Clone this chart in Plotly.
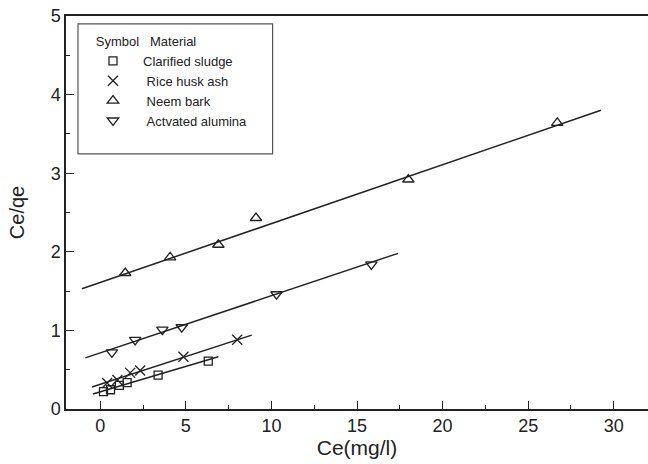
import plotly.graph_objects as go

# ---- data ----
cs_x = [0.19, 0.60, 1.12, 1.57, 3.38, 6.31]
cs_y = [0.22, 0.245, 0.30, 0.335, 0.43, 0.61]
rha_x = [0.40, 1.00, 1.75, 2.33, 4.86, 8.00]
rha_y = [0.33, 0.37, 0.46, 0.49, 0.665, 0.88]
nb_x = [1.46, 4.08, 6.90, 9.10, 18.0, 26.7]
nb_y = [1.73, 1.93, 2.09, 2.43, 2.92, 3.64]
aa_x = [0.68, 2.04, 3.63, 4.76, 10.3, 15.84]
aa_y = [0.72, 0.88, 1.01, 1.04, 1.46, 1.84]

# fitted lines (end points)
cs_fit_x, cs_fit_y = [-0.43, 6.9], [0.19, 0.665]
rha_fit_x, rha_fit_y = [-0.48, 8.85], [0.28, 0.94]
nb_fit_x, nb_fit_y = [-1.07, 29.25], [1.53, 3.80]
aa_fit_x, aa_fit_y = [-0.87, 17.4], [0.65, 1.98]

names = ["Clarified sludge", "Rice husk ash", "Neem bark", "Actvated alumina"]
symbols = ["square-open", "x-thin-open", "triangle-up-open", "triangle-down-open"]
sizes = [8, 10, 10, 10]

INK = "#222222"
FONT = "Liberation Sans, Arial, sans-serif"

fig = go.Figure()
series = [(cs_x, cs_y, cs_fit_x, cs_fit_y), (rha_x, rha_y, rha_fit_x, rha_fit_y),
          (nb_x, nb_y, nb_fit_x, nb_fit_y), (aa_x, aa_y, aa_fit_x, aa_fit_y)]
for (px, py, fx, fy) in series:
    fig.add_trace(go.Scatter(x=fx, y=fy, mode="lines", showlegend=False,
                             line=dict(color=INK, width=1.5), hoverinfo="skip"))
for (px, py, fx, fy), nm, sym, sz in zip(series, names, symbols, sizes):
    pad = "" if nm == "Clarified sludge" else "\u00a0"
    fig.add_trace(go.Scatter(x=px, y=py, mode="markers", name=pad + nm,
                             marker=dict(symbol=sym, size=sz, color=INK,
                                         line=dict(color=INK, width=1.3))))

fig.update_layout(
    width=648, height=464,
    margin=dict(l=66, r=0, t=16, b=55),
    paper_bgcolor="white", plot_bgcolor="white",
    font=dict(family=FONT, color=INK, size=18),
    showlegend=True,
    legend=dict(
        x=0.0292, y=0.967, xanchor="left", yanchor="top",
        bgcolor="rgba(0,0,0,0)", borderwidth=0,
        font=dict(size=13, family=FONT, color=INK),
        title=dict(text="\u00a0" * 3 + "Symbol\u00a0\u00a0\u00a0Material", font=dict(size=13, family=FONT, color=INK)),
        itemwidth=50,
    ),
    shapes=[dict(type="rect", xref="paper", yref="paper",
                 x0=0.0206, x1=0.355, y0=0.649, y1=0.980,
                 line=dict(color="#555555", width=1.2))],
)
fig.update_xaxes(
    range=[-2, 32], tickvals=[0, 5, 10, 15, 20, 25, 30],
    automargin=False,
    showgrid=False, zeroline=False,
    showline=True, linecolor=INK, linewidth=1.5, mirror=True,
    ticks="inside", ticklen=8, tickwidth=1.2, tickcolor=INK,
    minor=dict(dtick=2.5, tick0=0, ticks="inside", ticklen=4, tickwidth=1.2, tickcolor=INK, showgrid=False),
    tickfont=dict(size=18),
    title=dict(text="Ce(mg/l)", font=dict(size=21), standoff=2),
)
fig.update_yaxes(
    range=[0, 5], dtick=1,
    automargin=False,
    showgrid=False, zeroline=False,
    showline=True, linecolor=INK, linewidth=1.5, mirror=False,
    ticks="inside", ticklen=8, tickwidth=1.2, tickcolor=INK,
    minor=dict(dtick=0.5, tick0=0, ticks="inside", ticklen=4, tickwidth=1.2, tickcolor=INK, showgrid=False),
    tickfont=dict(size=18),
    title=dict(text="Ce/qe", font=dict(size=20), standoff=21),
)

fig.write_html(
    "out.html",
    config={"displayModeBar": False},
    post_script="document.body.style.margin='0';document.body.style.overflow='hidden';",
)
